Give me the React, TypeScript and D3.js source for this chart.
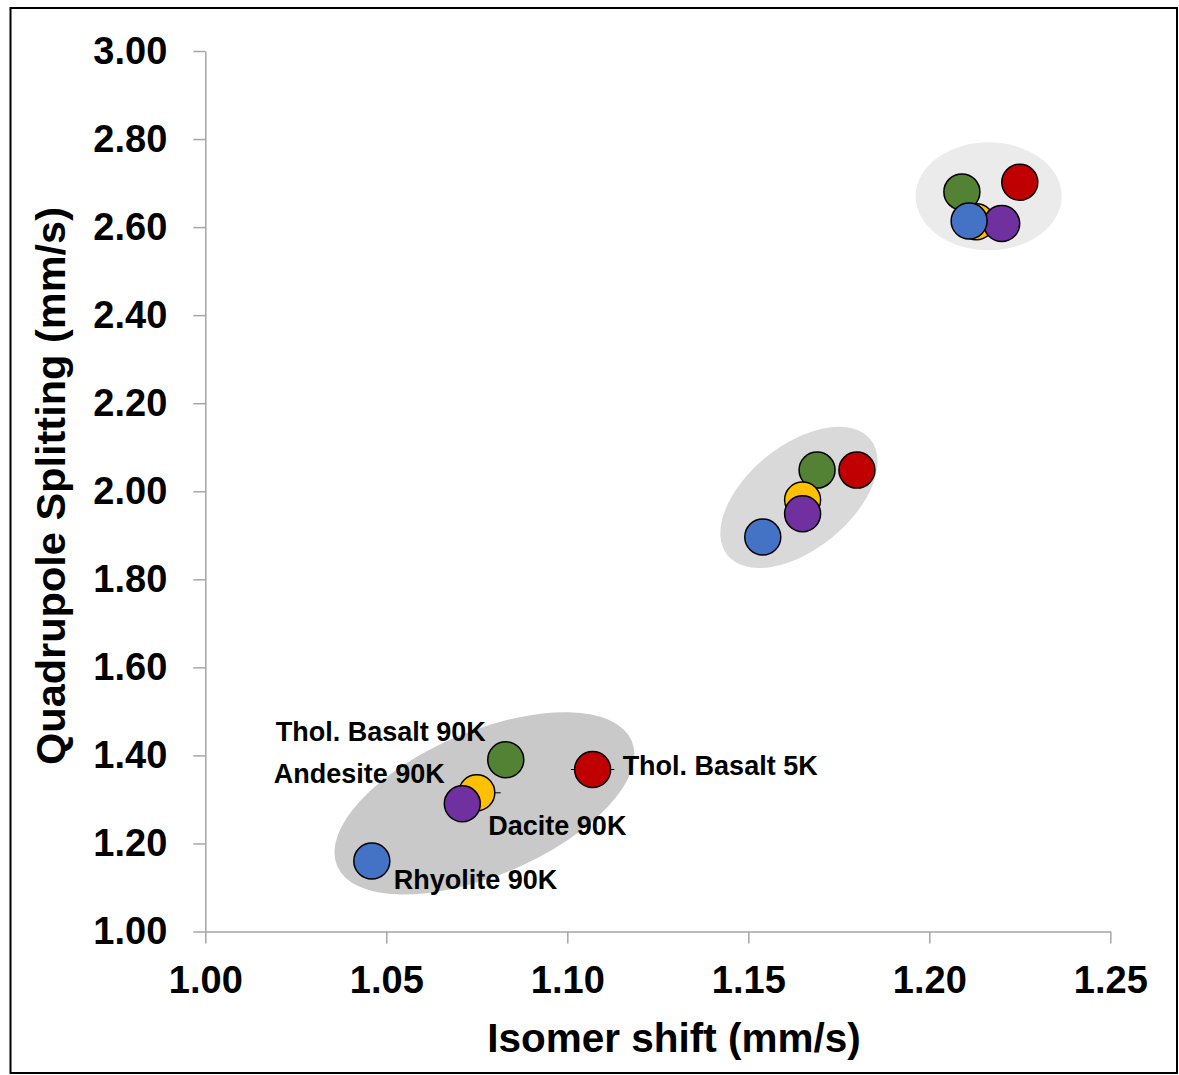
import React, { useRef, useEffect } from "react";
import * as d3 from "d3";

// Mössbauer doublet parameters, one entry per site (3 sites)
const seriesNames = [
  "Thol. Basalt 5K",
  "Thol. Basalt 90K",
  "Andesite 90K",
  "Dacite 90K",
  "Rhyolite 90K",
];
const seriesColors = ["#C00000", "#548235", "#FFC000", "#7030A0", "#4472C4"];

const isomerShift = [
  [1.107, 1.18, 1.225],
  [1.083, 1.169, 1.209],
  [1.075, 1.165, 1.213],
  [1.071, 1.165, 1.22],
  [1.046, 1.154, 1.211],
];
const quadSplitting = [
  [1.368, 2.048, 2.702],
  [1.39, 2.048, 2.68],
  [1.315, 1.98, 2.612],
  [1.29, 1.949, 2.608],
  [1.16, 1.896, 2.614],
];
const isomerErr = [
  [0.006, 0.004, 0.004],
  [0.004, 0.004, 0.004],
  [0.0066, 0.004, 0.004],
  [0.005, 0.004, 0.004],
  [0.004, 0.004, 0.004],
];

// grouping ellipses (centres in data units)
const groupX = [1.0771, 1.164, 1.2164];
const groupY = [1.291, 1.986, 2.67];
const groupFill = ["#C9C9C9", "#D9D9D9", "#EBEBEB"];
const groupShape = [
  { rx: 160, ry: 72, rot: -23 },
  { rx: 92, ry: 52, rot: -39 },
  { rx: 73, ry: 54, rot: 0 },
];

const xTicks = [1.0, 1.05, 1.1, 1.15, 1.2, 1.25];
const yTicks = [1.0, 1.2, 1.4, 1.6, 1.8, 2.0, 2.2, 2.4, 2.6, 2.8, 3.0];

// label placement next to the lowest site of each series
const labelPos = [
  { dx: 30, dy: 6, anchor: "start" },
  { dx: -20, dy: -19, anchor: "end" },
  { dx: -32, dy: -10, anchor: "end" },
  { dx: 26, dy: 31, anchor: "start" },
  { dx: 22, dy: 28, anchor: "start" },
];

const W = 1179;
const H = 1075;
const FONT = "'Liberation Sans', Arial, Helvetica, sans-serif";

const App = () => {
  const svgRef = useRef<SVGSVGElement>(null);

  useEffect(() => {
    const svg = d3.select(svgRef.current);
    svg.selectAll("*").remove();

    const x = d3.scaleLinear().domain([1.0, 1.25]).range([205.3, 1110.3]);
    const y = d3.scaleLinear().domain([1.0, 3.0]).range([931.5, 51]);

    // frame
    svg
      .append("rect")
      .attr("x", 10.5)
      .attr("y", 8)
      .attr("width", 1166.5)
      .attr("height", 1065)
      .attr("fill", "white")
      .attr("stroke", "black")
      .attr("stroke-width", 2);

    // grouping ellipses
    groupX.forEach((gx, i) => {
      const s = groupShape[i];
      svg
        .append("ellipse")
        .attr("cx", 0)
        .attr("cy", 0)
        .attr("rx", s.rx)
        .attr("ry", s.ry)
        .attr(
          "transform",
          `translate(${x(gx)},${y(groupY[i])}) rotate(${s.rot})`
        )
        .attr("fill", groupFill[i]);
    });

    // axes
    const yAxis = svg
      .append("g")
      .attr("transform", `translate(${x(1.0)},0)`)
      .call(
        d3
          .axisLeft(y)
          .tickValues(yTicks)
          .tickFormat(d3.format(".2f"))
          .tickSize(12)
          .tickSizeOuter(0)
          .tickPadding(26)
      );
    const xAxis = svg
      .append("g")
      .attr("transform", `translate(0,${y(1.0)})`)
      .call(
        d3
          .axisBottom(x)
          .tickValues(xTicks)
          .tickFormat(d3.format(".2f"))
          .tickSize(12)
          .tickSizeOuter(0)
          .tickPadding(23)
      );
    [xAxis, yAxis].forEach((ax) => {
      ax.select(".domain").attr("stroke", "#A6A6A6").attr("stroke-width", 1.5);
      ax.selectAll(".tick line")
        .attr("stroke", "#A6A6A6")
        .attr("stroke-width", 1.5);
      ax.selectAll(".tick text")
        .attr("fill", "black")
        .attr("font-family", FONT)
        .attr("font-weight", "bold")
        .attr("font-size", 38);
    });

    // axis titles
    svg
      .append("text")
      .attr("x", 674)
      .attr("y", 1052)
      .attr("text-anchor", "middle")
      .attr("font-family", FONT)
      .attr("font-weight", "bold")
      .attr("font-size", 40.5)
      .text("Isomer shift (mm/s)");
    svg
      .append("text")
      .attr("transform", "translate(65,486) rotate(-90)")
      .attr("text-anchor", "middle")
      .attr("font-family", FONT)
      .attr("font-weight", "bold")
      .attr("font-size", 41.5)
      .text("Quadrupole Splitting (mm/s)");

    // error bars then points, series by series
    seriesNames.forEach((name, s) => {
      const g = svg.append("g");
      isomerShift[s].forEach((xv, k) => {
        const yv = quadSplitting[s][k];
        g.append("line")
          .attr("x1", x(xv - isomerErr[s][k]))
          .attr("x2", x(xv + isomerErr[s][k]))
          .attr("y1", y(yv))
          .attr("y2", y(yv))
          .attr("stroke", "black")
          .attr("stroke-width", 1);
        g.append("circle")
          .attr("cx", x(xv))
          .attr("cy", y(yv))
          .attr("r", 18)
          .attr("fill", seriesColors[s])
          .attr("stroke", "black")
          .attr("stroke-width", 1.5);
      });
    });

    // series labels
    seriesNames.forEach((name, s) => {
      const p = labelPos[s];
      svg
        .append("text")
        .attr("x", x(isomerShift[s][0]) + p.dx)
        .attr("y", y(quadSplitting[s][0]) + p.dy)
        .attr("text-anchor", p.anchor)
        .attr("font-family", FONT)
        .attr("font-weight", "bold")
        .attr("font-size", 27)
        .text(name);
    });
  }, []);

  return (
    <svg
      ref={svgRef}
      width={W}
      height={H}
      style={{ position: "absolute", left: 0, top: 0, background: "white" }}
    />
  );
};

export default App;
